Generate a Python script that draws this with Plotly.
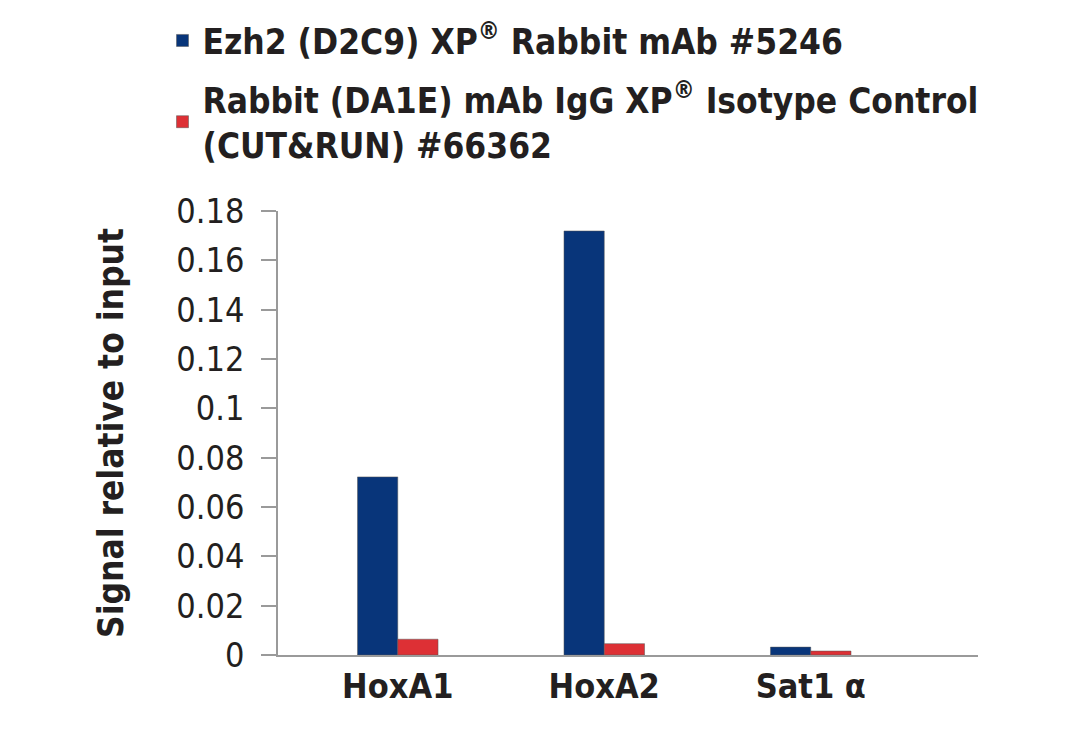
import plotly.graph_objects as go

# categories and series values
targets = ["HoxA1", "HoxA2", "Sat1 α"]
ezh2 = [0.0722, 0.1719, 0.0032]
igg = [0.0064, 0.0046, 0.0016]

series_names = [
    "Ezh2 (D2C9) XP<sup>®</sup> Rabbit mAb #5246",
    "Rabbit (DA1E) mAb IgG XP<sup>®</sup> Isotype Control<br>(CUT&RUN) #66362",
]
series_colors = ["#08357a", "#dd3035"]

y_ticks = [0, 0.02, 0.04, 0.06, 0.08, 0.1, 0.12, 0.14, 0.16, 0.18]
y_ticktext = ["0", "0.02", "0.04", "0.06", "0.08", "0.1", "0.12", "0.14", "0.16", "0.18"]

FONT = "Liberation Sans Narrow, DejaVu Sans Condensed, Liberation Sans, Arial"

fig = go.Figure()
for i, (name, vals, col) in enumerate(zip(series_names, [ezh2, igg], series_colors)):
    fig.add_trace(go.Bar(
        x=targets, y=vals, name=name, legendgroup=f"g{i}",
        marker=dict(color=col, line=dict(color="#555555", width=0.5)),
    ))

# page has an 8px body margin, so the figure is 8px smaller and shifted
fig.update_layout(
    width=1076, height=722,
    barmode="group", bargap=0.61, bargroupgap=0,
    plot_bgcolor="white", paper_bgcolor="white",
    margin=dict(l=270, r=106, t=203, b=75, autoexpand=False),
    font=dict(family=FONT, color="#231f20"),
    legend=dict(
        x=-0.165, y=1.45, xanchor="left", yanchor="top",
        font=dict(size=35, family=FONT, weight="bold"),
        tracegroupgap=10, itemwidth=30,
    ),
    showlegend=True,
)

fig.update_xaxes(
    range=[-0.58, 2.81],
    showline=True, linecolor="#9a9a9a", linewidth=1.5,
    ticks="", showgrid=False,
    tickfont=dict(size=34, family=FONT, weight="bold"),
)
fig.update_yaxes(
    range=[0, 0.18],
    tickvals=y_ticks, ticktext=y_ticktext,
    showline=True, linecolor="#9a9a9a", linewidth=1.5,
    ticks="outside", ticklen=15, tickcolor="#9a9a9a", tickwidth=1.5,
    ticklabelstandoff=10,
    showgrid=False, zeroline=False,
    tickfont=dict(size=34, family=FONT),
    title=dict(text="Signal relative to input", standoff=42,
               font=dict(size=35, family=FONT, weight="bold")),
)

fig.write_html("out.html")
